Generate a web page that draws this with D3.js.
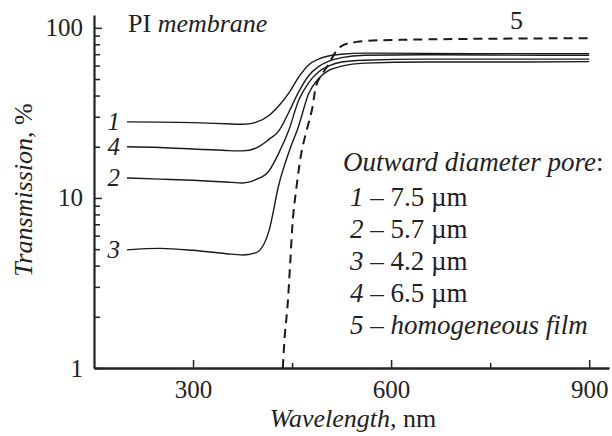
<!DOCTYPE html>
<html>
<head>
<meta charset="utf-8">
<script src="https://cdn.jsdelivr.net/npm/d3@7"></script>
<style>
  body { margin: 0; background: #fff; }
</style>
</head>
<body>
<svg id="chart" width="612" height="436"></svg>
<script>
// wavelength grid (nm) shared by the membrane curves
const wavelengths = [200, 250, 300, 350, 375, 395, 415, 430, 445, 460, 475, 490, 505, 525, 560, 650, 750, 900];

// transmission, %
const curve1 = [28.0, 27.9, 27.7, 27.3, 27.1, 27.8, 30.5, 34.8, 41.3, 51.3, 60.5, 65.5, 68.3, 70.0, 71.0, 70.8, 70.5, 70.5];
const curve4 = [20.0, 19.8, 19.4, 19.0, 18.9, 19.6, 22.1, 24.8, 31.9, 42.0, 52.3, 59.2, 63.5, 66.8, 69.0, 69.5, 69.2, 69.0];
const curve2 = [13.1, 12.9, 12.7, 12.4, 12.25, 12.8, 14.4, 18.4, 25.0, 37.5, 47.5, 55.0, 59.5, 63.0, 64.5, 65.5, 65.5, 65.5];
const curve3 = [4.95, 5.05, 4.92, 4.7, 4.62, 4.75, 6.4, 12.0, 18.5, 26.5, 41.0, 50.3, 56.0, 59.5, 62.0, 63.0, 63.0, 63.3];

// homogeneous film (dashed)
const filmWavelengths = [436, 439, 443, 447, 451.5, 457.5, 465, 480, 488, 503, 523, 548, 614, 705, 900];
const filmValues = [1.0, 1.56, 2.28, 4.04, 7.73, 12.25, 19.2, 32.9, 47.5, 59.0, 77.3, 82.7, 85.0, 86.0, 87.0];

const curveLabels = ["1", "4", "2", "3"];
const legendItems = [
  { num: "1", text: "7.5 µm" },
  { num: "2", text: "5.7 µm" },
  { num: "3", text: "4.2 µm" },
  { num: "4", text: "6.5 µm" }
];

const xMajorTicks = [300, 600, 900];
const xMinorTicks = [450, 750];
const yMajorTicks = [1, 10, 100];
const yMinorTicks = [2, 3, 4, 5, 6, 7, 8, 9, 20, 30, 40, 50, 60, 70, 80, 90];

const svg = d3.select("#chart");
const font = "Liberation Serif";
const fontSize = 26;
const ink = "#222";

const x = d3.scaleLinear().domain([150, 930]).range([94, 609]);
const y = d3.scaleLog().domain([1, 119]).range([368, 15]);

// axes
const xAxisMinor = svg.append("g")
  .attr("transform", `translate(0,${y(1)})`)
  .call(d3.axisBottom(x).tickValues(xMinorTicks).tickSize(-5).tickSizeOuter(0).tickFormat(""));
xAxisMinor.select(".domain").remove();

const xAxis = svg.append("g")
  .attr("transform", `translate(0,${y(1)})`)
  .call(d3.axisBottom(x).tickValues(xMajorTicks).tickSize(-8).tickSizeOuter(0).tickPadding(12));

const yAxisMinor = svg.append("g")
  .attr("transform", `translate(${x(150)},0)`)
  .call(d3.axisLeft(y).tickValues(yMinorTicks).tickSize(-6).tickSizeOuter(0).tickFormat(""));
yAxisMinor.select(".domain").remove();

const yAxis = svg.append("g")
  .attr("transform", `translate(${x(150)},0)`)
  .call(d3.axisLeft(y).tickValues(yMajorTicks).tickSize(-8).tickSizeOuter(0).tickPadding(11).tickFormat(d3.format("d")));

svg.selectAll(".tick line").attr("stroke", ink).attr("stroke-width", 1.5);
xAxis.select(".domain").attr("stroke", ink).attr("stroke-width", 2.6);
yAxis.select(".domain").attr("stroke", ink).attr("stroke-width", 2.2);
svg.selectAll(".tick text")
  .attr("fill", ink)
  .style("font-family", font)
  .style("font-size", "25px");

// curves
const line = d3.line()
  .x(d => x(d[0]))
  .y(d => y(d[1]))
  .curve(d3.curveMonotoneX);

const series = [curve1, curve4, curve2, curve3];
series.forEach((vals, i) => {
  const pts = wavelengths.map((w, j) => [w, vals[j]]);
  svg.append("path")
    .datum(pts)
    .attr("fill", "none")
    .attr("stroke", "#1a1a1a")
    .attr("stroke-width", 1.4)
    .attr("d", line);

  svg.append("text")
    .attr("x", x(wavelengths[0]) - 7)
    .attr("y", y(vals[0]))
    .attr("dy", "0.34em")
    .attr("text-anchor", "end")
    .style("font-family", font)
    .style("font-size", "25px")
    .style("font-style", "italic")
    .attr("fill", ink)
    .text(curveLabels[i]);
});

const filmPts = filmWavelengths.map((w, j) => [w, filmValues[j]]);
const filmLine = d3.line()
  .x(d => x(d[0]))
  .y(d => y(d[1]))
  .curve(d3.curveCatmullRom);
svg.append("path")
  .datum(filmPts)
  .attr("fill", "none")
  .attr("stroke", "#1a1a1a")
  .attr("stroke-width", 2)
  .attr("stroke-dasharray", "9,6")
  .attr("d", filmLine);

svg.append("text")
  .attr("x", x(790))
  .attr("y", y(87) - 9)
  .attr("text-anchor", "middle")
  .style("font-family", font)
  .style("font-size", fontSize + "px")
  .attr("fill", ink)
  .text("5");

// title inside plot
const title = svg.append("text")
  .attr("x", 128)
  .attr("y", 32)
  .style("font-family", font)
  .style("font-size", fontSize + "px")
  .attr("fill", ink);
title.append("tspan").text("PI ");
title.append("tspan").style("font-style", "italic").text("membrane");

// legend
const legend = svg.append("g").attr("fill", ink)
  .style("font-family", font)
  .style("font-size", "27px");
const head = legend.append("text").attr("x", 343).attr("y", 171);
head.append("tspan").style("font-style", "italic").text("Outward diameter pore");
head.append("tspan").text(":");

legendItems.forEach((item, i) => {
  const t = legend.append("text").attr("x", 350).attr("y", 206 + i * 32);
  t.append("tspan").style("font-style", "italic").text(item.num);
  t.append("tspan").text(" – " + item.text);
});
const last = legend.append("text").attr("x", 350).attr("y", 206 + 4 * 32);
last.append("tspan").style("font-style", "italic").text("5");
last.append("tspan").text(" – ");
last.append("tspan").style("font-style", "italic").text("homogeneous film");

// axis titles
const xTitle = svg.append("text")
  .attr("x", 353)
  .attr("y", 427)
  .attr("text-anchor", "middle")
  .style("font-family", font)
  .style("font-size", fontSize + "px")
  .attr("fill", ink);
xTitle.append("tspan").style("font-style", "italic").text("Wavelength");
xTitle.append("tspan").text(", nm");

const yTitle = svg.append("text")
  .attr("transform", "translate(32,190) rotate(-90)")
  .attr("text-anchor", "middle")
  .style("font-family", font)
  .style("font-size", fontSize + "px")
  .attr("fill", ink);
yTitle.append("tspan").style("font-style", "italic").text("Transmission");
yTitle.append("tspan").text(", %");
</script>
</body>
</html>
